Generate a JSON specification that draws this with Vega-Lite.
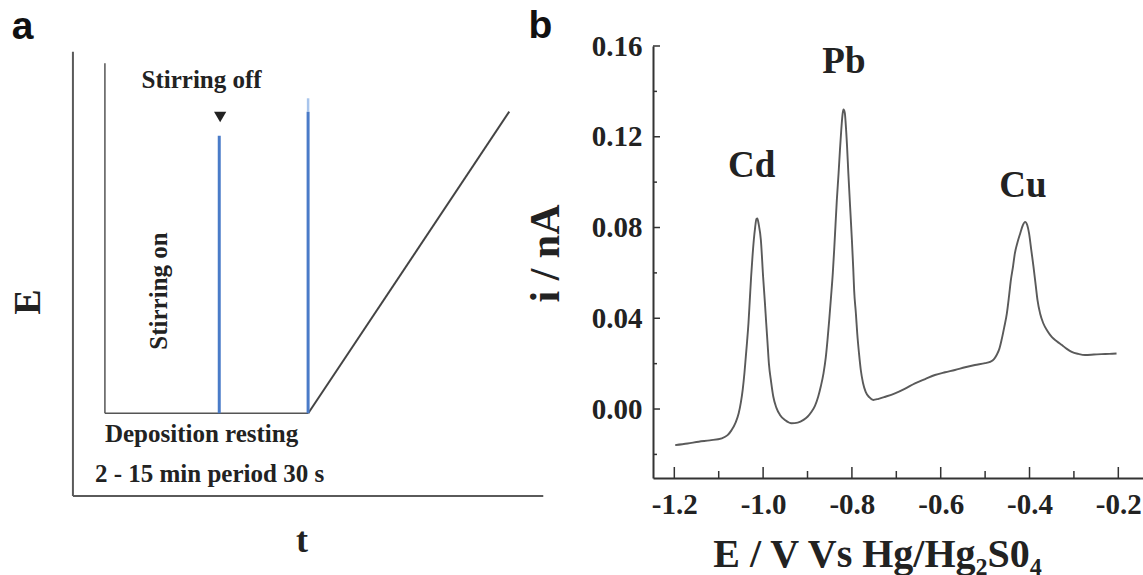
{
  "$schema": "https://vega.github.io/schema/vega-lite/v6.json",
  "width": 490,
  "height": 432,
  "autosize": {"type": "none"},
  "padding": {"left": 653, "top": 46, "right": 0, "bottom": 97},
  "background": "white",
  "config": {"view": {"stroke": null}, "font": "Liberation Serif"},
  "datasets": {
    "curve": [
      {"E": -1.198, "i": -0.0159}, {"E": -1.17, "i": -0.0152}, {"E": -1.145, "i": -0.0144}, {"E": -1.12, "i": -0.0138},
      {"E": -1.093, "i": -0.0129}, {"E": -1.08, "i": -0.0115}, {"E": -1.071, "i": -0.0093}, {"E": -1.062, "i": -0.006},
      {"E": -1.055, "i": -0.0019}, {"E": -1.05, "i": 0.003}, {"E": -1.046, "i": 0.0084}, {"E": -1.042, "i": 0.016},
      {"E": -1.039, "i": 0.023}, {"E": -1.036, "i": 0.03}, {"E": -1.033, "i": 0.0378}, {"E": -1.03, "i": 0.048},
      {"E": -1.027, "i": 0.0583}, {"E": -1.024, "i": 0.067}, {"E": -1.021, "i": 0.0744}, {"E": -1.018, "i": 0.08},
      {"E": -1.015, "i": 0.0838}, {"E": -1.013, "i": 0.084}, {"E": -1.01, "i": 0.0815}, {"E": -1.005, "i": 0.0744},
      {"E": -1.0, "i": 0.0583}, {"E": -0.996, "i": 0.047}, {"E": -0.993, "i": 0.0378}, {"E": -0.99, "i": 0.029},
      {"E": -0.987, "i": 0.0201}, {"E": -0.982, "i": 0.012}, {"E": -0.977, "i": 0.0054}, {"E": -0.97, "i": 0.0005},
      {"E": -0.962, "i": -0.0026}, {"E": -0.95, "i": -0.005}, {"E": -0.936, "i": -0.0063}, {"E": -0.922, "i": -0.006},
      {"E": -0.909, "i": -0.0048}, {"E": -0.9, "i": -0.0034}, {"E": -0.891, "i": -0.0012}, {"E": -0.883, "i": 0.0015},
      {"E": -0.876, "i": 0.0054}, {"E": -0.87, "i": 0.01}, {"E": -0.864, "i": 0.0157}, {"E": -0.859, "i": 0.0225},
      {"E": -0.855, "i": 0.0304}, {"E": -0.851, "i": 0.0395}, {"E": -0.847, "i": 0.0495}, {"E": -0.843, "i": 0.06},
      {"E": -0.84, "i": 0.07}, {"E": -0.837, "i": 0.081}, {"E": -0.834, "i": 0.092}, {"E": -0.83, "i": 0.104},
      {"E": -0.827, "i": 0.114}, {"E": -0.824, "i": 0.123}, {"E": -0.821, "i": 0.13}, {"E": -0.819, "i": 0.132},
      {"E": -0.816, "i": 0.1305}, {"E": -0.814, "i": 0.1258}, {"E": -0.811, "i": 0.116}, {"E": -0.808, "i": 0.1038},
      {"E": -0.804, "i": 0.089}, {"E": -0.8, "i": 0.0744}, {"E": -0.797, "i": 0.062}, {"E": -0.795, "i": 0.0524},
      {"E": -0.791, "i": 0.042}, {"E": -0.788, "i": 0.0333}, {"E": -0.784, "i": 0.0245}, {"E": -0.78, "i": 0.0172},
      {"E": -0.775, "i": 0.0115}, {"E": -0.769, "i": 0.0076}, {"E": -0.761, "i": 0.0052}, {"E": -0.752, "i": 0.004},
      {"E": -0.74, "i": 0.0045}, {"E": -0.725, "i": 0.0054}, {"E": -0.703, "i": 0.0069}, {"E": -0.68, "i": 0.009},
      {"E": -0.658, "i": 0.0113}, {"E": -0.635, "i": 0.0132}, {"E": -0.613, "i": 0.015}, {"E": -0.59, "i": 0.0162},
      {"E": -0.568, "i": 0.0172}, {"E": -0.545, "i": 0.0184}, {"E": -0.523, "i": 0.0194}, {"E": -0.5, "i": 0.0202},
      {"E": -0.489, "i": 0.0208}, {"E": -0.48, "i": 0.022}, {"E": -0.474, "i": 0.0238}, {"E": -0.468, "i": 0.0265},
      {"E": -0.463, "i": 0.0304}, {"E": -0.457, "i": 0.036}, {"E": -0.451, "i": 0.0422}, {"E": -0.446, "i": 0.05},
      {"E": -0.442, "i": 0.0568}, {"E": -0.437, "i": 0.063}, {"E": -0.433, "i": 0.0686}, {"E": -0.427, "i": 0.0735},
      {"E": -0.421, "i": 0.0774}, {"E": -0.415, "i": 0.081}, {"E": -0.41, "i": 0.0825}, {"E": -0.405, "i": 0.081},
      {"E": -0.401, "i": 0.0774}, {"E": -0.396, "i": 0.07}, {"E": -0.391, "i": 0.0627}, {"E": -0.386, "i": 0.0545},
      {"E": -0.382, "i": 0.048}, {"E": -0.376, "i": 0.042}, {"E": -0.369, "i": 0.0378}, {"E": -0.36, "i": 0.0345},
      {"E": -0.35, "i": 0.0318}, {"E": -0.338, "i": 0.0298}, {"E": -0.327, "i": 0.0282}, {"E": -0.316, "i": 0.0265},
      {"E": -0.305, "i": 0.0252}, {"E": -0.29, "i": 0.0243}, {"E": -0.275, "i": 0.0238}, {"E": -0.255, "i": 0.024},
      {"E": -0.238, "i": 0.0242}, {"E": -0.22, "i": 0.0243}, {"E": -0.204, "i": 0.0245}
    ],
    "peaks": [
      {"E": -1.026, "i": 0.107, "metal": "Cd"},
      {"E": -0.818, "i": 0.1529, "metal": "Pb"},
      {"E": -0.415, "i": 0.0982, "metal": "Cu"}
    ],
    "xMajor": [{"E": -1.2}, {"E": -1.0}, {"E": -0.8}, {"E": -0.6}, {"E": -0.4}, {"E": -0.2}],
    "xMinor": [{"E": -1.1}, {"E": -0.9}, {"E": -0.7}, {"E": -0.5}, {"E": -0.3}],
    "yMajor": [{"i": 0}, {"i": 0.04}, {"i": 0.08}, {"i": 0.12}, {"i": 0.16}],
    "yMinor": [{"i": -0.02}, {"i": 0.02}, {"i": 0.06}, {"i": 0.1}, {"i": 0.14}],
    "frame": [
      {"t1": 0, "E1": 0, "t2": 0, "E2": 100},
      {"t1": 0, "E1": 0, "t2": 100, "E2": 0}
    ],
    "inner": [
      {"t1": 6.8, "E1": 18.61, "t2": 6.8, "E2": 97.39},
      {"t1": 6.8, "E1": 18.61, "t2": 50.03, "E2": 18.61}
    ],
    "ramp": [
      {"t1": 50.03, "E1": 18.61, "t2": 92.77, "E2": 86.5}
    ],
    "pulses": [
      {"t1": 31.11, "E1": 18.61, "t2": 31.11, "E2": 81.09},
      {"t1": 50.0, "E1": 18.61, "t2": 50.0, "E2": 86.5}
    ],
    "tip": [
      {"t1": 50.0, "E1": 86.5, "t2": 50.0, "E2": 89.51}
    ],
    "arrow": [
      {"t": 31.3, "E": 85.3}
    ],
    "txtCenter": [
      {"t": 27.36, "E": 91.83, "label": "Stirring off", "size": 25},
      {"t": 48.69, "E": -12.6, "label": "t", "size": 36}
    ],
    "txtRot": [
      {"t": 18.39, "E": 46.14, "label": "Stirring on", "size": 25},
      {"t": -9.36, "E": 43.66, "label": "E", "size": 38}
    ],
    "txtLeft": [
      {"t": 6.8, "E": 12.15, "label": "Deposition resting"},
      {"t": 4.68, "E": 3.15, "label": "2 - 15 min period 30 s"}
    ],
    "panelTags": [
      {"t": -13.03, "E": 102.79, "label": "a"},
      {"t": 96.87, "E": 102.97, "label": "b"}
    ]
  },
  "layer": [
    {
      "layer": [
        {
          "data": {"name": "curve"},
          "mark": {"type": "line", "color": "#5a5a5a", "strokeWidth": 1.9, "interpolate": "monotone"},
          "encoding": {
            "x": {
              "field": "E", "type": "quantitative",
              "scale": {"domain": [-1.248, -0.1444], "nice": false, "zero": false},
              "axis": {
                "orient": "bottom", "values": [-1.2, -1.0, -0.8, -0.6, -0.4, -0.2],
                "labelExpr": "(datum.value < 0 ? '-' : '') + format(abs(datum.value), '.1f')",
                "labelFont": "Liberation Serif", "labelFontWeight": "bold", "labelFontSize": 29, "labelColor": "#222222",
                "labelPadding": 12, "labelFlush": false, "labelOverlap": false,
                "ticks": false,
                "domainColor": "#333333", "domainWidth": 2, "grid": false,
                "title": "E / V Vs Hg/Hg₂S0₄", "titleFont": "Liberation Serif", "titleFontWeight": "bold",
                "titleFontSize": 40, "titleColor": "#222222", "titleX": 224, "titleY": 88,
                "titleAlign": "center", "titleBaseline": "alphabetic"
              }
            },
            "y": {
              "field": "i", "type": "quantitative",
              "scale": {"domain": [-0.0304, 0.16], "nice": false, "zero": false},
              "axis": {
                "orient": "left", "values": [0, 0.04, 0.08, 0.12, 0.16], "format": ".2f",
                "labelFont": "Liberation Serif", "labelFontWeight": "bold", "labelFontSize": 29, "labelColor": "#222222",
                "labelPadding": 11, "labelFlush": false, "labelOverlap": false,
                "ticks": false,
                "domainColor": "#333333", "domainWidth": 2, "grid": false,
                "title": "i / nA", "titleFont": "Liberation Serif", "titleFontWeight": "bold",
                "titleFontSize": 42, "titleColor": "#222222", "titleX": -95, "titleY": 207,
                "titleAngle": 270, "titleAlign": "center", "titleBaseline": "alphabetic"
              }
            }
          }
        },
        {
          "data": {"name": "peaks"},
          "mark": {"type": "text", "font": "Liberation Serif", "fontWeight": "bold", "fontSize": 37, "color": "#222222", "align": "center", "baseline": "middle"},
          "encoding": {
            "x": {"field": "E", "type": "quantitative", "scale": {"domain": [-1.248, -0.1444], "nice": false, "zero": false}, "axis": null},
            "y": {"field": "i", "type": "quantitative", "scale": {"domain": [-0.0304, 0.16], "nice": false, "zero": false}, "axis": null},
            "text": {"field": "metal"}
          }
        },
        {
          "data": {"name": "xMajor"},
          "mark": {"type": "tick", "orient": "vertical", "size": 11, "thickness": 1.5, "color": "#333333", "opacity": 1, "yOffset": -5.5},
          "encoding": {
            "x": {"field": "E", "type": "quantitative", "scale": {"domain": [-1.248, -0.1444], "nice": false, "zero": false}, "axis": null},
            "y": {"datum": -0.0304, "type": "quantitative", "scale": {"domain": [-0.0304, 0.16], "nice": false, "zero": false}, "axis": null}
          }
        },
        {
          "data": {"name": "xMinor"},
          "mark": {"type": "tick", "orient": "vertical", "size": 7, "thickness": 1.5, "color": "#333333", "opacity": 1, "yOffset": -3.5},
          "encoding": {
            "x": {"field": "E", "type": "quantitative", "scale": {"domain": [-1.248, -0.1444], "nice": false, "zero": false}, "axis": null},
            "y": {"datum": -0.0304, "type": "quantitative", "scale": {"domain": [-0.0304, 0.16], "nice": false, "zero": false}, "axis": null}
          }
        },
        {
          "data": {"name": "yMajor"},
          "mark": {"type": "tick", "orient": "horizontal", "size": 7, "thickness": 1.5, "color": "#333333", "opacity": 1, "xOffset": 3.5},
          "encoding": {
            "x": {"datum": -1.248, "type": "quantitative", "scale": {"domain": [-1.248, -0.1444], "nice": false, "zero": false}, "axis": null},
            "y": {"field": "i", "type": "quantitative", "scale": {"domain": [-0.0304, 0.16], "nice": false, "zero": false}, "axis": null}
          }
        },
        {
          "data": {"name": "yMinor"},
          "mark": {"type": "tick", "orient": "horizontal", "size": 4, "thickness": 1.5, "color": "#333333", "opacity": 1, "xOffset": 2},
          "encoding": {
            "x": {"datum": -1.248, "type": "quantitative", "scale": {"domain": [-1.248, -0.1444], "nice": false, "zero": false}, "axis": null},
            "y": {"field": "i", "type": "quantitative", "scale": {"domain": [-0.0304, 0.16], "nice": false, "zero": false}, "axis": null}
          }
        }
      ],
      "resolve": {"axis": {"x": "independent", "y": "independent"}}
    },
    {
      "layer": [
        {
          "data": {"name": "frame"},
          "mark": {"type": "rule", "color": "#5a5a5a", "strokeWidth": 2},
          "encoding": {
            "x": {"field": "t1", "type": "quantitative", "scale": {"domain": [123.33, 227.51], "nice": false, "zero": false}, "axis": null},
            "x2": {"field": "t2"},
            "y": {"field": "E1", "type": "quantitative", "scale": {"domain": [4.051, 101.28], "nice": false, "zero": false}, "axis": null},
            "y2": {"field": "E2"}
          }
        },
        {
          "data": {"name": "inner"},
          "mark": {"type": "rule", "color": "#555555", "strokeWidth": 1.5},
          "encoding": {
            "x": {"field": "t1", "type": "quantitative", "scale": {"domain": [123.33, 227.51], "nice": false, "zero": false}, "axis": null},
            "x2": {"field": "t2"},
            "y": {"field": "E1", "type": "quantitative", "scale": {"domain": [4.051, 101.28], "nice": false, "zero": false}, "axis": null},
            "y2": {"field": "E2"}
          }
        },
        {
          "data": {"name": "ramp"},
          "mark": {"type": "rule", "color": "#444444", "strokeWidth": 2},
          "encoding": {
            "x": {"field": "t1", "type": "quantitative", "scale": {"domain": [123.33, 227.51], "nice": false, "zero": false}, "axis": null},
            "x2": {"field": "t2"},
            "y": {"field": "E1", "type": "quantitative", "scale": {"domain": [4.051, 101.28], "nice": false, "zero": false}, "axis": null},
            "y2": {"field": "E2"}
          }
        },
        {
          "data": {"name": "tip"},
          "mark": {"type": "rule", "color": "#a9c5ec", "strokeWidth": 2.5},
          "encoding": {
            "x": {"field": "t1", "type": "quantitative", "scale": {"domain": [123.33, 227.51], "nice": false, "zero": false}, "axis": null},
            "x2": {"field": "t2"},
            "y": {"field": "E1", "type": "quantitative", "scale": {"domain": [4.051, 101.28], "nice": false, "zero": false}, "axis": null},
            "y2": {"field": "E2"}
          }
        },
        {
          "data": {"name": "pulses"},
          "mark": {"type": "rule", "color": "#4a7bc8", "strokeWidth": 3},
          "encoding": {
            "x": {"field": "t1", "type": "quantitative", "scale": {"domain": [123.33, 227.51], "nice": false, "zero": false}, "axis": null},
            "x2": {"field": "t2"},
            "y": {"field": "E1", "type": "quantitative", "scale": {"domain": [4.051, 101.28], "nice": false, "zero": false}, "axis": null},
            "y2": {"field": "E2"}
          }
        },
        {
          "data": {"name": "arrow"},
          "mark": {"type": "point", "shape": "triangle-down", "filled": true, "size": 150, "color": "#222222", "opacity": 1},
          "encoding": {
            "x": {"field": "t", "type": "quantitative", "scale": {"domain": [123.33, 227.51], "nice": false, "zero": false}, "axis": null},
            "y": {"field": "E", "type": "quantitative", "scale": {"domain": [4.051, 101.28], "nice": false, "zero": false}, "axis": null}
          }
        },
        {
          "data": {"name": "txtCenter"},
          "mark": {"type": "text", "font": "Liberation Serif", "fontWeight": "bold", "color": "#222222", "align": "center", "baseline": "alphabetic"},
          "encoding": {
            "x": {"field": "t", "type": "quantitative", "scale": {"domain": [123.33, 227.51], "nice": false, "zero": false}, "axis": null},
            "y": {"field": "E", "type": "quantitative", "scale": {"domain": [4.051, 101.28], "nice": false, "zero": false}, "axis": null},
            "text": {"field": "label"},
            "size": {"field": "size", "type": "quantitative", "scale": null}
          }
        },
        {
          "data": {"name": "txtRot"},
          "mark": {"type": "text", "font": "Liberation Serif", "fontWeight": "bold", "color": "#222222", "align": "center", "baseline": "middle", "angle": 270},
          "encoding": {
            "x": {"field": "t", "type": "quantitative", "scale": {"domain": [123.33, 227.51], "nice": false, "zero": false}, "axis": null},
            "y": {"field": "E", "type": "quantitative", "scale": {"domain": [4.051, 101.28], "nice": false, "zero": false}, "axis": null},
            "text": {"field": "label"},
            "size": {"field": "size", "type": "quantitative", "scale": null}
          }
        },
        {
          "data": {"name": "txtLeft"},
          "mark": {"type": "text", "font": "Liberation Serif", "fontWeight": "bold", "fontSize": 25, "color": "#222222", "align": "left", "baseline": "alphabetic"},
          "encoding": {
            "x": {"field": "t", "type": "quantitative", "scale": {"domain": [123.33, 227.51], "nice": false, "zero": false}, "axis": null},
            "y": {"field": "E", "type": "quantitative", "scale": {"domain": [4.051, 101.28], "nice": false, "zero": false}, "axis": null},
            "text": {"field": "label"}
          }
        },
        {
          "data": {"name": "panelTags"},
          "mark": {"type": "text", "font": "Liberation Sans", "fontWeight": "bold", "fontSize": 39, "color": "#111111", "align": "left", "baseline": "alphabetic"},
          "encoding": {
            "x": {"field": "t", "type": "quantitative", "scale": {"domain": [123.33, 227.51], "nice": false, "zero": false}, "axis": null},
            "y": {"field": "E", "type": "quantitative", "scale": {"domain": [4.051, 101.28], "nice": false, "zero": false}, "axis": null},
            "text": {"field": "label"}
          }
        }
      ]
    }
  ],
  "resolve": {"scale": {"x": "independent", "y": "independent"}}
}
